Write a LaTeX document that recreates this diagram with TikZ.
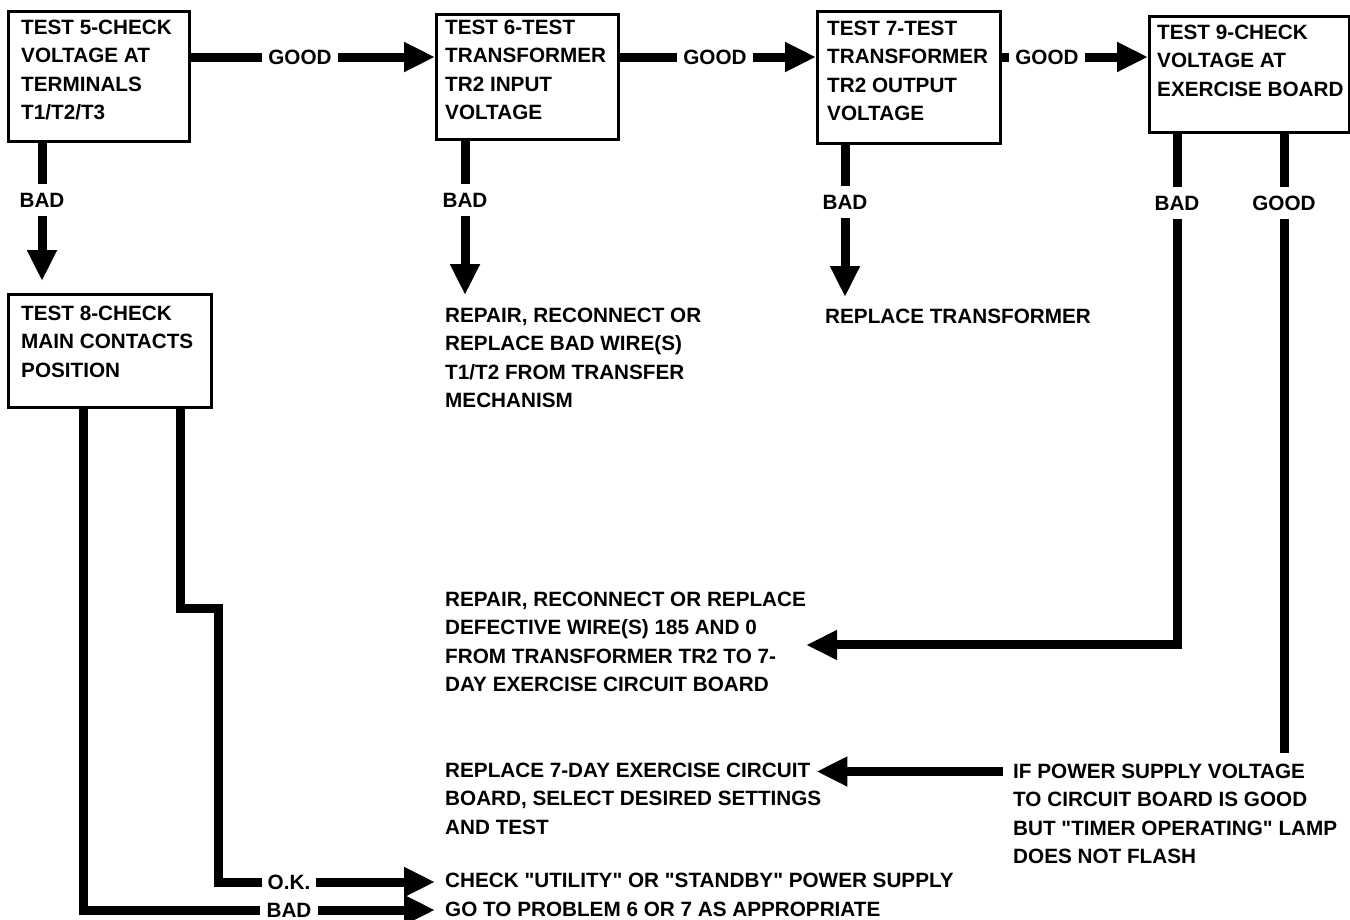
\documentclass[tikz,border=0pt]{standalone}
\usepackage{fontspec}
\setmainfont{Liberation Sans}[Ligatures=TeXOff]
\usetikzlibrary{arrows.meta,calc}
\begin{document}
\begin{tikzpicture}[x=1pt,y=-1pt,
  font=\fontsize{20.7}{28.3}\selectfont\bfseries,
  box/.style={draw,line width=2.5pt,anchor=north west,inner sep=0pt},
  txt/.style={anchor=north west,align=left,inner sep=0pt},
  hlbl/.style={inner xsep=6pt,inner ysep=0pt},
  vlbl/.style={inner xsep=0pt,inner ysep=8.5pt},
  wire/.style={line width=9pt},
  arr/.style={line width=9pt,-{Triangle[length=31pt,width=28pt]}},
]
\useasboundingbox (0,0) rectangle (1350,919);

% boxes
\node[box,minimum width=181pt,minimum height=130pt] (t5) at (7,10) {};
\node[txt] (t5t) at (21,20) {TEST 5-CHECK\\VOLTAGE AT\\TERMINALS\\T1/T2/T3};
\node[box,minimum width=182pt,minimum height=125pt] (t6) at (435,13) {};
\node[txt] (t6t) at (445,20) {TEST 6-TEST\\TRANSFORMER\\TR2 INPUT\\VOLTAGE};
\node[box,minimum width=183pt,minimum height=132pt] (t7) at (816,10) {};
\node[txt] (t7t) at (827,21) {TEST 7-TEST\\TRANSFORMER\\TR2 OUTPUT\\VOLTAGE};
\node[box,minimum width=200pt,minimum height=116pt] (t9) at (1148,15) {};
\node[txt] (t9t) at (1157,25) {TEST 9-CHECK\\VOLTAGE AT\\EXERCISE BOARD};
\node[box,minimum width=203pt,minimum height=113pt] (t8) at (7,293) {};
\node[txt] (t8t) at (21,306) {TEST 8-CHECK\\MAIN CONTACTS\\POSITION};

% result texts
\node[txt] (rep1) at (445,308) {REPAIR, RECONNECT OR\\REPLACE BAD WIRE(S)\\T1/T2 FROM TRANSFER\\MECHANISM};
\node[txt] (rtf) at (825,309) {REPLACE TRANSFORMER};
\node[txt] (rep2) at (445,592) {REPAIR, RECONNECT OR REPLACE\\DEFECTIVE WIRE(S) 185 AND 0\\FROM TRANSFORMER TR2 TO 7-\\DAY EXERCISE CIRCUIT BOARD};
\node[txt] (rep7) at (445,763) {REPLACE 7-DAY EXERCISE CIRCUIT\\BOARD, SELECT DESIRED SETTINGS\\AND TEST};
\node[txt] (ifp) at (1013,764) {IF POWER SUPPLY VOLTAGE\\TO CIRCUIT BOARD IS GOOD\\BUT "TIMER OPERATING" LAMP\\DOES NOT FLASH};
\node[txt] (chk) at (445,873) {CHECK "UTILITY" OR "STANDBY" POWER SUPPLY};
\node[txt] (goto) at (445,902) {GO TO PROBLEM 6 OR 7 AS APPROPRIATE};

% labels
\node[hlbl] (g1) at (300,57) {GOOD};
\node[hlbl] (g2) at (715,57) {GOOD};
\node[hlbl] (g3) at (1047,57) {GOOD};
\node[vlbl] (b5) at (42,200) {BAD};
\node[vlbl] (b6) at (465,200) {BAD};
\node[vlbl] (b7) at (845,202) {BAD};
\node[vlbl] (b9) at (1177,203) {BAD};
\node[vlbl] (g9) at (1284,203) {GOOD};
\node[hlbl] (ok) at (289,882) {O.K.};
\node[hlbl] (bl) at (289,910) {BAD};

% GOOD chain
\draw[wire] (t5.east |- g1) -- (g1.west);
\draw[arr] (g1.east) -- (g1 -| t6.west);
\draw[wire] (t6.east |- g2) -- (g2.west);
\draw[arr] (g2.east) -- (g2 -| t7.west);
\draw[wire] (t7.east |- g3) -- (g3.west);
\draw[arr] (g3.east) -- (g3 -| t9.west);

% BAD branches
\draw[wire] (t5.south -| b5) -- (b5.north);
\draw[arr,shorten >=12pt] (b5.south) -- (b5.south |- t8.north);
\draw[wire] (t6.south -| b6) -- (b6.north);
\draw[arr,shorten >=13pt] (b6.south) -- (b6.south |- rep1.north);
\draw[wire] (t7.south -| b7) -- (b7.north);
\draw[arr,shorten >=12pt] (b7.south) -- (b7.south |- rtf.north);
\draw[wire] (t9.south -| b9) -- (b9.north);
\draw[arr] (b9.south) -- ([yshift=-3pt]b9.south |- rep2.east) -- ([yshift=-3pt]rep2.east);
\draw[wire] (t9.south -| g9) -- (g9.north);
\draw[wire,shorten >=11pt] (g9.south) -- (g9.south |- ifp.north);
\draw[arr,shorten >=5pt] ([xshift=-10pt,yshift=-7.5pt]ifp.north west) -- ([xshift=-10pt,yshift=-7.5pt]ifp.north west -| rep7.east);

% Test 8 outputs
\draw[wire] ([xshift=76pt]t8.south west) |- (bl.west);
\draw[arr,shorten >=10pt] (bl.east) -- (bl.east -| goto.west);
\draw[wire] ([xshift=173pt]t8.south west) -- ++(0,200) -- ++(38,0) |- (ok.west);
\draw[arr,shorten >=10pt] (ok.east) -- (ok.east -| chk.west);
\end{tikzpicture}
\end{document}
